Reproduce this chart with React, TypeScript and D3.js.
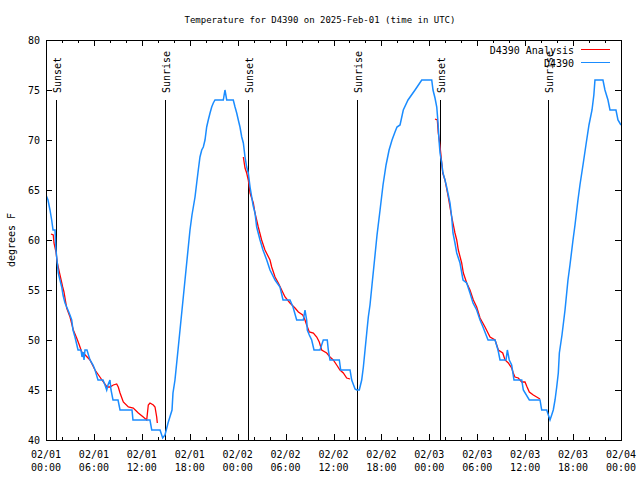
import React from "react";
import * as d3 from "d3";

// Hours since 02/01 00:00 UTC, temperature (°F)
const observed: [number, number][] = [
  [0.0, 64.5], [0.25, 64.0], [0.5, 63.0], [0.71, 62.0], [0.88, 61.0], [1.13, 61.0], [1.25, 59.0],
  [1.54, 56.7], [1.75, 56.0], [1.97, 55.3], [2.13, 54.5], [2.38, 53.7], [2.75, 53.0], [3.0, 52.5],
  [3.22, 52.0], [3.38, 51.0], [3.63, 50.3], [4.01, 49.0], [4.38, 49.0], [4.51, 48.3], [4.63, 48.8],
  [4.76, 48.0], [4.88, 49.0], [5.13, 49.0], [5.51, 48.0], [5.89, 47.5], [6.14, 47.0], [6.51, 46.0],
  [7.14, 46.0], [7.39, 45.5], [7.6, 45.0], [7.76, 45.5], [8.01, 46.0], [8.14, 45.0], [8.39, 44.0],
  [9.02, 44.0], [9.27, 43.0], [10.77, 43.0], [10.89, 42.0], [13.02, 42.0], [13.24, 41.0], [14.28, 41.0],
  [14.61, 40.2], [14.9, 40.5], [15.28, 41.7], [15.78, 43.0], [15.9, 44.7], [16.15, 46.0], [16.53, 49.0],
  [16.78, 51.0], [17.03, 53.0], [17.28, 55.0], [17.53, 57.0], [17.78, 59.0], [18.03, 61.0], [18.28, 62.5],
  [18.66, 64.3], [18.87, 65.7], [19.07, 67.0], [19.28, 68.3], [19.5, 69.0], [19.7, 69.3], [19.91, 70.0],
  [20.12, 71.3], [20.32, 72.0], [20.54, 72.7], [20.75, 73.3], [20.95, 73.7], [21.16, 74.0], [22.2, 74.0],
  [22.41, 75.0], [22.63, 74.0], [23.45, 74.0], [23.67, 73.3], [23.88, 72.7], [24.08, 72.0], [24.29, 71.3],
  [24.51, 70.3], [24.71, 69.7], [24.92, 68.3], [25.13, 67.3], [25.33, 66.7], [25.55, 65.3], [25.76, 64.3],
  [25.92, 63.5], [26.17, 62.7], [26.38, 61.3], [26.8, 60.0], [27.17, 59.0], [27.64, 58.0], [28.05, 57.0],
  [28.68, 56.0], [29.3, 55.3], [29.68, 54.0], [30.55, 54.0], [30.93, 53.3], [31.39, 52.0], [32.22, 52.0],
  [32.43, 53.0], [32.64, 52.0], [32.72, 51.0], [32.97, 50.5], [33.27, 50.0], [33.56, 49.0], [34.31, 49.0],
  [34.72, 50.0], [35.22, 50.0], [35.35, 49.0], [35.56, 48.0], [36.73, 48.0], [36.9, 47.0], [38.07, 47.0],
  [38.28, 46.0], [38.7, 45.1], [38.91, 45.0], [39.23, 45.0], [39.53, 46.0], [39.74, 47.3], [39.95, 49.0],
  [40.16, 50.7], [40.36, 52.3], [40.57, 53.5], [40.82, 55.5], [41.2, 58.5], [41.45, 60.5], [41.83, 63.0],
  [42.2, 65.5], [42.58, 67.5], [42.96, 69.0], [43.33, 70.0], [43.7, 70.8], [43.95, 71.3], [44.33, 71.5],
  [44.74, 73.0], [45.33, 74.0], [46.21, 75.0], [47.05, 76.0], [48.3, 76.0], [48.46, 75.0], [48.71, 74.2],
  [48.93, 73.3], [49.09, 71.7], [49.21, 70.0], [49.34, 68.7], [49.55, 67.7], [49.71, 66.7], [49.96, 66.0],
  [50.17, 65.3], [50.59, 63.7], [50.8, 62.3], [50.96, 60.7], [51.21, 59.7], [51.43, 58.7], [51.84, 57.7],
  [52.22, 56.0], [52.68, 55.7], [53.09, 54.7], [53.47, 53.7], [53.93, 53.0], [54.35, 52.0], [54.72, 51.3],
  [55.35, 50.0], [56.23, 50.0], [56.6, 49.0], [56.85, 48.0], [57.6, 48.0], [57.77, 49.0], [58.01, 48.0],
  [58.31, 47.5], [58.6, 46.0], [59.57, 46.0], [59.77, 45.0], [60.52, 44.0], [61.86, 44.0], [62.07, 43.0],
  [62.7, 43.0], [62.9, 42.5], [63.11, 42.0], [63.32, 42.5], [63.52, 43.0], [63.74, 44.0], [63.95, 45.3],
  [64.15, 46.7], [64.28, 48.7], [64.61, 50.5], [64.99, 53.0], [65.36, 56.0], [65.61, 57.5], [65.99, 60.0],
  [66.24, 61.5], [66.61, 64.0], [66.86, 65.5], [67.24, 67.5], [67.61, 69.5], [67.99, 71.5], [68.37, 73.0],
  [68.6, 74.5], [68.74, 76.0], [69.74, 76.0], [69.99, 75.0], [70.37, 74.0], [70.62, 73.0], [71.37, 73.0],
  [71.62, 72.0], [72.0, 71.5],
];

const analysisNight1: [number, number][] = [
  [0.63, 60.6], [0.91, 60.5], [1.0, 59.7], [1.25, 58.8], [1.42, 57.7], [1.75, 56.5], [2.09, 55.3],
  [2.25, 54.8], [2.59, 53.2], [3.01, 52.3], [3.42, 51.0], [3.84, 50.2], [4.17, 49.5], [4.47, 48.8],
  [4.67, 48.7], [5.51, 48.0], [6.14, 47.0], [7.01, 46.0], [7.64, 45.3], [8.01, 45.3], [8.43, 45.5],
  [8.85, 45.6], [9.05, 45.3], [9.27, 44.7], [9.68, 43.8], [10.31, 43.3], [10.93, 43.2], [11.56, 42.7],
  [12.18, 42.3], [12.61, 42.0], [12.81, 43.5], [13.02, 43.7], [13.44, 43.5], [13.65, 43.3], [13.86, 42.3],
  [13.94, 41.7],
];
const analysisNight2: [number, number][] = [
  [24.71, 68.3], [24.92, 67.2], [25.13, 66.7], [25.33, 66.0], [25.55, 64.7], [25.96, 63.7], [26.17, 62.7],
  [26.58, 61.3], [27.0, 60.0], [27.42, 59.0], [28.05, 58.0], [28.26, 57.3], [28.68, 56.3], [29.09, 55.7],
  [29.51, 55.0], [29.93, 54.3], [30.55, 53.7], [31.18, 53.2], [31.6, 52.8], [32.15, 52.5], [32.43, 52.0],
  [32.64, 51.5], [32.97, 50.8], [33.48, 50.7], [33.9, 50.3], [34.22, 49.8], [34.52, 49.0], [35.15, 48.7],
  [35.56, 48.3], [35.97, 48.0], [36.4, 47.5], [36.81, 47.0], [37.23, 46.7], [37.65, 46.2], [38.07, 46.1],
];
const analysisNight3: [number, number][] = [
  [48.71, 72.1], [49.0, 72.0], [49.12, 70.7], [49.25, 70.0], [49.43, 68.7], [49.68, 66.7], [49.96, 66.0],
  [50.37, 64.3], [50.8, 62.3], [51.21, 60.7], [51.43, 60.0], [51.63, 59.0], [52.05, 57.7], [52.26, 56.7],
  [52.68, 55.7], [53.09, 55.0], [53.51, 54.0], [53.93, 53.3], [54.35, 52.2], [54.97, 51.3], [55.6, 50.3],
  [56.23, 50.0], [56.64, 49.0], [57.19, 48.7], [57.48, 48.0], [57.89, 47.7], [58.31, 47.2], [58.51, 46.7],
  [58.72, 46.3], [59.14, 46.2], [59.57, 45.8], [59.98, 45.8], [60.24, 45.3], [60.52, 44.8], [61.02, 44.5],
  [61.44, 44.3], [61.86, 44.1],
];
const analysisSegments = [analysisNight1, analysisNight2, analysisNight3];

const eventHours = [1.29, 14.9, 25.29, 38.94, 49.34, 62.86];
const eventLabels = ["Sunset", "Sunrise", "Sunset", "Sunrise", "Sunset", "Sunrise"];

const yTicks = [40, 45, 50, 55, 60, 65, 70, 75, 80];
const xMajorHours = [0, 6, 12, 18, 24, 30, 36, 42, 48, 54, 60, 66, 72];
const xMinorHours = d3.range(0, 73, 2);
const dayLabels = ["02/01", "02/02", "02/03", "02/04"];

const titleText = "Temperature for D4390 on 2025-Feb-01 (time in UTC)";
const yLabel = "degrees F";
const seriesNames = ["D4390 Analysis", "D4390"];

const W = 640, H = 480;
const L = 46, R = 621, T = 40, B = 440;
const FONT = "'DejaVu Sans Mono', monospace";
const BLUE = "#1a8cff";
const RED = "#ff0000";

export default function App() {
  const x = d3.scaleLinear().domain([0, 72]).range([L, R]);
  const y = d3.scaleLinear().domain([40, 80]).range([B, T]);
  const line = d3.line<[number, number]>().x((d) => x(d[0])).y((d) => y(d[1]));
  const fmtTime = (h: number) => `${String(h % 24).padStart(2, "0")}:00`;

  return (
    <svg width={W} height={H} style={{ position: "absolute", left: 0, top: 0, background: "#fff" }}>
      <defs>
        <clipPath id="plot">
          <rect x={L} y={T} width={R - L} height={B - T} />
        </clipPath>
      </defs>
      <text x={320} y={23} textAnchor="middle" fontFamily={FONT} fontSize={9}>
        {titleText}
      </text>
      <text transform={`translate(15,${(T + B) / 2}) rotate(-90)`} textAnchor="middle" fontFamily={FONT} fontSize={10}>
        {yLabel}
      </text>

      {/* y ticks */}
      {yTicks.map((v) => (
        <g key={`y${v}`}>
          <line x1={L} x2={L + 6} y1={Math.round(y(v)) + 0.5} y2={Math.round(y(v)) + 0.5} stroke="#000" />
          <line x1={R - 6} x2={R} y1={Math.round(y(v)) + 0.5} y2={Math.round(y(v)) + 0.5} stroke="#000" />
          <text x={L - 6} y={y(v) + 4} textAnchor="end" fontFamily={FONT} fontSize={10}>
            {v}
          </text>
        </g>
      ))}
      {/* x ticks */}
      {xMinorHours.map((h) => {
        const len = h % 6 === 0 ? 6 : 3;
        const px = Math.round(x(h)) + 0.5;
        return (
          <g key={`xm${h}`}>
            <line x1={px} x2={px} y1={B} y2={B - len} stroke="#000" />
            <line x1={px} x2={px} y1={T} y2={T + len} stroke="#000" />
          </g>
        );
      })}
      {xMajorHours.map((h) => (
        <g key={`xl${h}`}>
          <text x={x(h)} y={458} textAnchor="middle" fontFamily={FONT} fontSize={10}>
            {dayLabels[Math.floor(h / 24)]}
          </text>
          <text x={x(h)} y={471} textAnchor="middle" fontFamily={FONT} fontSize={10}>
            {fmtTime(h)}
          </text>
        </g>
      ))}

      {/* sunrise / sunset markers */}
      {eventHours.map((h, i) => {
        const px = Math.round(x(h)) + 0.5;
        return (
          <g key={`e${i}`}>
            <line x1={px} x2={px} y1={100} y2={B} stroke="#000" strokeWidth={1} shapeRendering="crispEdges" />
            <text transform={`translate(${px + 4},93) rotate(-90)`} textAnchor="start" fontFamily={FONT} fontSize={10}>
              {eventLabels[i]}
            </text>
          </g>
        );
      })}

      <g clipPath="url(#plot)">
        {analysisSegments.map((seg, i) => (
          <path key={`a${i}`} d={line(seg) || ""} fill="none" stroke={RED} strokeWidth={1.3} />
        ))}
        <path d={line(observed) || ""} fill="none" stroke={BLUE} strokeWidth={1.5} />
      </g>

      {/* legend */}
      <text x={574} y={53.5} textAnchor="end" fontFamily={FONT} fontSize={10}>
        {seriesNames[0]}
      </text>
      <line x1={581} x2={610} y1={49.5} y2={49.5} stroke={RED} strokeWidth={1} />
      <text x={574} y={66.5} textAnchor="end" fontFamily={FONT} fontSize={10}>
        {seriesNames[1]}
      </text>
      <line x1={581} x2={610} y1={62.5} y2={62.5} stroke={BLUE} strokeWidth={1} />

      <rect x={L + 0.5} y={T + 0.5} width={R - L} height={B - T} fill="none" stroke="#000" shapeRendering="crispEdges" />
    </svg>
  );
}
